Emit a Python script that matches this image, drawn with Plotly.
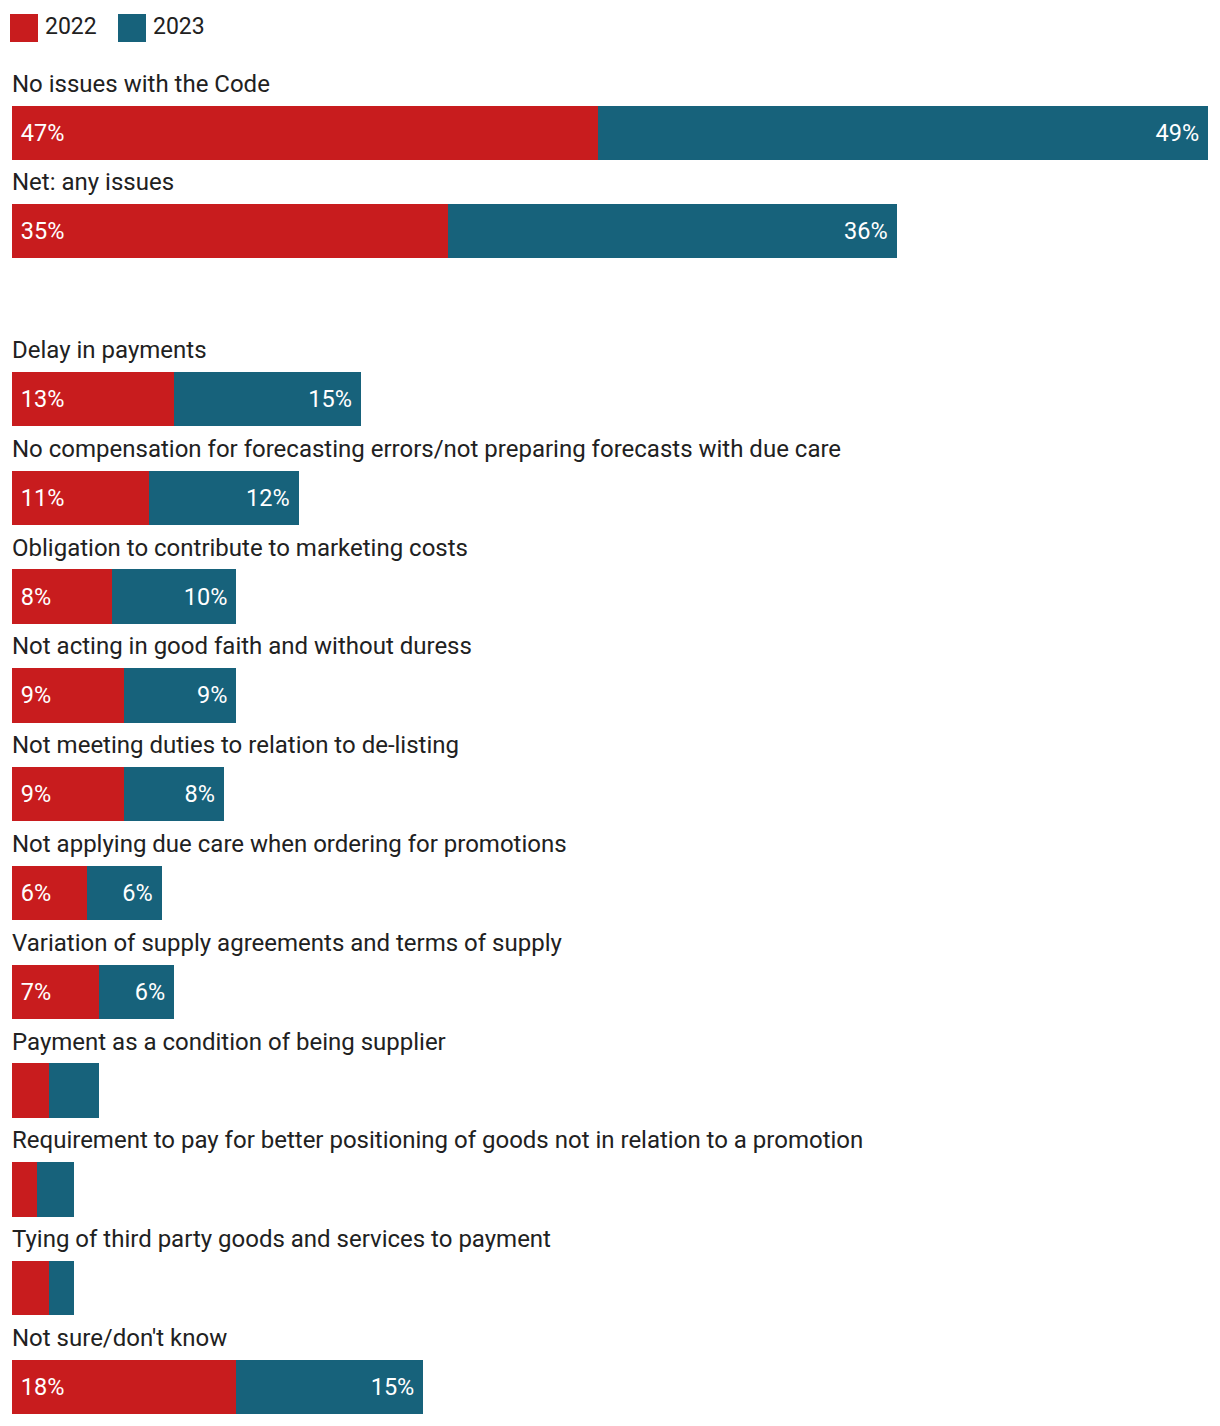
import plotly.graph_objects as go

# ---- data ----
top_categories = ["No issues with the Code", "Net: any issues"]
top_2022 = [47, 35]
top_2023 = [49, 36]

issue_categories = [
    "Delay in payments",
    "No compensation for forecasting errors/not preparing forecasts with due care",
    "Obligation to contribute to marketing costs",
    "Not acting in good faith and without duress",
    "Not meeting duties to relation to de-listing",
    "Not applying due care when ordering for promotions",
    "Variation of supply agreements and terms of supply",
    "Payment as a condition of being supplier",
    "Requirement to pay for better positioning of goods not in relation to a promotion",
    "Tying of third party goods and services to payment",
    "Not sure/don't know",
]
issue_2022 = [13, 11, 8, 9, 9, 6, 7, 3, 2, 3, 18]
issue_2023 = [15, 12, 10, 9, 8, 6, 6, 4, 3, 2, 15]

series_names = ["2022", "2023"]
colors = ["#C81C1E", "#17627B"]

# page has an 8px body margin
OFF = 8
W, H = 1220 - OFF, 1426 - OFF
FONT = "Roboto"
TXT = "#212121"


def labels(vals):
    return [f"\u00a0{v}%\u00a0" if v >= 5 else "" for v in vals]


fig = go.Figure()

groups = [
    (top_categories, [top_2022, top_2023], "x", "y"),
    (issue_categories, [issue_2022, issue_2023], "x2", "y2"),
]
for cats, series, xa, ya in groups:
    for i, vals in enumerate(series):
        fig.add_trace(go.Bar(
            y=cats, x=vals, orientation="h", name=series_names[i],
            marker=dict(color=colors[i], line=dict(width=0)),
            text=labels(vals), textposition="inside",
            insidetextanchor="start" if i == 0 else "end",
            insidetextfont=dict(color="white", size=23.5, family=FONT),
            textangle=0, constraintext="none",
            xaxis=xa, yaxis=ya, showlegend=False, hoverinfo="skip",
        ))

# category labels above bars
annotations = []
for cats, ya in [(top_categories, "y"), (issue_categories, "y2")]:
    for c in cats:
        annotations.append(dict(
            xref="paper", yref=ya, x=0, y=c, xanchor="left", yanchor="middle",
            yshift=49, xshift=-2, text=c, showarrow=False,
            font=dict(size=24, family=FONT, color=TXT),
        ))


def py(px):
    # reference window pixel (from top) -> paper y
    return 1 - (px - OFF) / H


def pxx(px):
    # reference window pixel (from left) -> paper x
    return (px - 12) / 1196


# custom legend
shapes = []
for i, (name, col) in enumerate(zip(series_names, colors)):
    x0 = 10 + i * 108
    shapes.append(dict(type="rect", xref="paper", yref="paper",
                       x0=pxx(x0), x1=pxx(x0 + 28), y0=py(42), y1=py(14),
                       fillcolor=col, line=dict(width=0)))
    annotations.append(dict(xref="paper", yref="paper", x=pxx(x0 + 33), y=py(27),
                            xanchor="left", yanchor="middle", text=name,
                            showarrow=False,
                            font=dict(size=23, family=FONT, color=TXT)))

fig.update_layout(
    width=W, height=H,
    margin=dict(l=12 - OFF, r=12, t=0, b=0),
    barmode="stack", bargap=0.45,
    plot_bgcolor="white", paper_bgcolor="white",
    font=dict(family=FONT, color=TXT),
    showlegend=False,
    xaxis=dict(range=[0, 96], domain=[0, 1], visible=False, fixedrange=True),
    xaxis2=dict(range=[0, 96], domain=[0, 1], visible=False, fixedrange=True,
                anchor="y2"),
    yaxis=dict(domain=[py(290), py(60)], type="category",
               categoryorder="array", categoryarray=top_categories,
               range=[1.602, -0.745], visible=False, fixedrange=True),
    yaxis2=dict(domain=[0, py(330)], type="category",
                categoryorder="array", categoryarray=issue_categories,
                range=[10.395, -0.698], visible=False, fixedrange=True),
    annotations=annotations,
    shapes=shapes,
)

fig.write_html("out.html", config={"displayModeBar": False})
